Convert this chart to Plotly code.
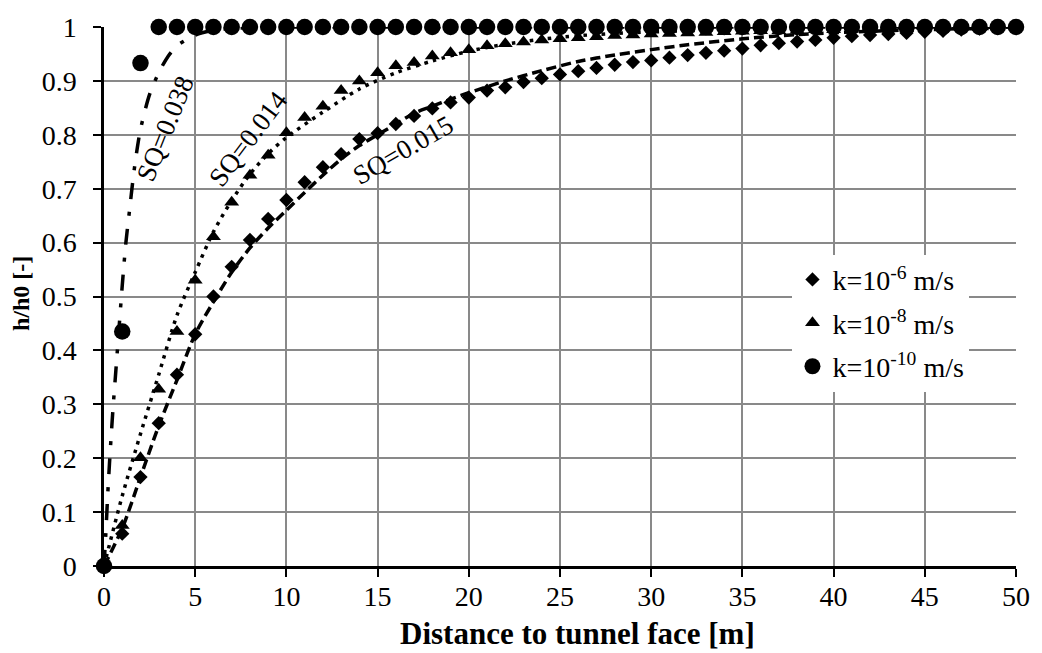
import plotly.graph_objects as go

# ---- data ----
x_pts = list(range(0, 51))

k6_vals = [0, 0.06, 0.165, 0.265, 0.355, 0.43, 0.50, 0.555, 0.605, 0.644, 0.679,
           0.712, 0.74, 0.764, 0.792, 0.803, 0.82, 0.835, 0.849, 0.86, 0.869,
           0.882, 0.888, 0.898, 0.905, 0.912, 0.918, 0.924, 0.93, 0.935, 0.938,
           0.943, 0.948, 0.952, 0.956, 0.96, 0.966, 0.97, 0.973, 0.976, 0.98,
           0.983, 0.985, 0.987, 0.989, 0.991, 0.993, 0.995, 0.997, 0.998, 1.0]

k8_vals = [0, 0.075, 0.201, 0.328, 0.435, 0.53, 0.611, 0.675, 0.725, 0.762, 0.804,
           0.832, 0.853, 0.882, 0.90, 0.915, 0.928, 0.934, 0.946, 0.952, 0.958,
           0.965, 0.969, 0.972, 0.976, 0.978, 0.98, 0.982, 0.984, 0.985, 0.987,
           0.988, 0.989, 0.990, 0.991, 0.992, 0.993, 0.993, 0.994, 0.995, 0.995,
           0.996, 0.996, 0.997, 0.997, 0.998, 0.998, 0.999, 0.999, 1.0, 1.0]

k10_vals = [0, 0.435, 0.933] + [1.0] * 48

# fitted curves
fit015_x = [0, 1, 2, 3, 4, 5, 6, 7, 8, 9, 10, 11, 12, 13, 14, 15, 16, 17, 18, 19, 20,
            22, 24, 26, 28, 30, 32, 35, 38, 42, 46, 50]
fit015_y = [0, 0.07, 0.165, 0.26, 0.345, 0.43, 0.49, 0.545, 0.59, 0.627, 0.66, 0.693,
            0.725, 0.755, 0.78, 0.80, 0.82, 0.84, 0.853, 0.866, 0.878, 0.90, 0.919,
            0.936, 0.948, 0.958, 0.967, 0.978, 0.986, 0.992, 0.996, 0.998]

fit014_x = [0, 1, 2, 3, 4, 5, 6, 7, 8, 9, 10, 12, 14, 16, 18, 20, 22, 25, 28, 32,
            36, 42, 50]
fit014_y = [0, 0.13, 0.245, 0.355, 0.465, 0.545, 0.62, 0.678, 0.727, 0.765, 0.795,
            0.842, 0.885, 0.915, 0.937, 0.955, 0.968, 0.981, 0.988, 0.993, 0.996,
            0.998, 1.0]

fit038_x = [0, 0.1, 0.2, 0.3, 0.4, 0.5, 0.6, 0.7, 0.8, 1.0, 1.2, 1.4, 1.6, 1.8, 2.0,
            2.5, 3.0, 3.5, 4.0, 5.0, 6.0, 8.0, 10, 20, 50]
fit038_y = [0, 0.06, 0.13, 0.19, 0.245, 0.295, 0.34, 0.385, 0.43, 0.52, 0.6, 0.66,
            0.72, 0.77, 0.81, 0.875, 0.915, 0.945, 0.965, 0.985, 0.994, 0.999, 1.0,
            1.0, 1.0]

legend_names = ["k=10<sup>-6</sup> m/s", "k=10<sup>-8</sup> m/s", "k=10<sup>-10</sup> m/s"]
sq_labels = ["SQ=0.038", "SQ=0.014", "SQ=0.015"]
x_title = "Distance to tunnel face [m]"
y_title = "h/h0 [-]"

FONT = "Liberation Serif, Times New Roman, serif"

fig = go.Figure()

fig.add_trace(go.Scatter(x=x_pts, y=k6_vals, mode="markers", name=legend_names[0],
                         marker=dict(symbol="diamond", size=11, color="black"),
                         cliponaxis=False, legendgroup="a"))
fig.add_trace(go.Scatter(x=x_pts, y=k8_vals, mode="markers", name=legend_names[1],
                         marker=dict(symbol="triangle-up", size=13, color="black"),
                         cliponaxis=False, legendgroup="b"))
fig.add_trace(go.Scatter(x=x_pts, y=k10_vals, mode="markers", name=legend_names[2],
                         marker=dict(symbol="circle", size=16.5, color="black"),
                         cliponaxis=False, legendgroup="c"))

fig.add_trace(go.Scatter(x=fit015_x, y=fit015_y, mode="lines", showlegend=False,
                         line=dict(color="black", width=3.5, dash="10px,5px", shape="spline", smoothing=0.8)))
fig.add_trace(go.Scatter(x=fit014_x, y=fit014_y, mode="lines", showlegend=False,
                         line=dict(color="black", width=3.5, dash="3.5px,5.5px", shape="spline", smoothing=0.8)))
fig.add_trace(go.Scatter(x=fit038_x, y=fit038_y, mode="lines", showlegend=False,
                         line=dict(color="black", width=3.5, dash="16px,13px,4px,13px", shape="spline", smoothing=0.8)))

# SQ annotations (data coords)
ann_pos = [(3.38, 0.812, -68), (7.9, 0.792, -53), (16.4, 0.771, -30)]
for txt, (ax_, ay_, ang) in zip(sq_labels, ann_pos):
    fig.add_annotation(x=ax_, y=ay_, xref="x", yref="y", text=txt, showarrow=False,
                       textangle=ang, font=dict(family=FONT, size=27, color="black"),
                       xanchor="center", yanchor="middle")

W, H = 1042, 653
L, R, T, B = 104, 20, 24, 87
pw, ph = W - L - R, H - T - B

def px2paper(px, py):
    return (px - L) / pw, (H - B - py) / ph

tx, ty = px2paper(581, 652)
fig.add_annotation(x=tx, y=ty, xref="paper", yref="paper", text="<b>" + x_title + "</b>",
                   showarrow=False, font=dict(family=FONT, size=31, color="black"),
                   xanchor="center", yanchor="bottom", borderpad=0)
tx, ty = px2paper(20, 292)
fig.add_annotation(x=tx, y=ty, xref="paper", yref="paper", text="<b>" + y_title + "</b>",
                   showarrow=False, textangle=-90, font=dict(family=FONT, size=24, color="black"),
                   xanchor="center", yanchor="middle")

lx, ly = px2paper(797, 253)
fig.update_layout(
    width=W, height=H,
    margin=dict(l=L, r=R, t=T, b=B),
    paper_bgcolor="white", plot_bgcolor="white",
    font=dict(family=FONT, size=28, color="black"),
    showlegend=True,
    legend=dict(x=lx, y=ly, xanchor="left", yanchor="top", bgcolor="white",
                borderwidth=0, font=dict(family=FONT, size=28, color="black"),
                tracegroupgap=4, itemwidth=30),
    xaxis=dict(range=[0, 50], dtick=5, tick0=0, showgrid=True, gridcolor="#898989",
               gridwidth=2, showline=True, linecolor="black", linewidth=2.5,
               ticks="outside", ticklen=8, tickwidth=2, tickcolor="black",
               zeroline=False, ticklabelstandoff=-4,
               tickfont=dict(family=FONT, size=28, color="black")),
    yaxis=dict(range=[0, 1], dtick=0.1, tick0=0, showgrid=True, gridcolor="#898989",
               gridwidth=2, showline=True, linecolor="black", linewidth=2.5,
               ticks="outside", ticklen=8, tickwidth=2, tickcolor="black",
               zeroline=False, ticklabelstandoff=11,
               tickfont=dict(family=FONT, size=28, color="black")),
)

fig.write_html("out.html")
